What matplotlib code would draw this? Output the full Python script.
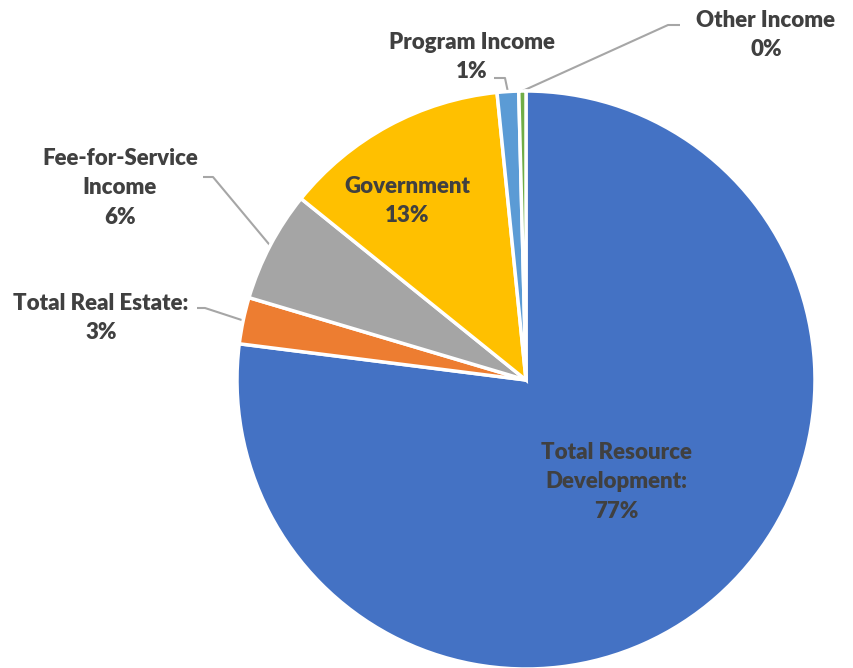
import matplotlib
matplotlib.use("Agg")
import matplotlib.pyplot as plt
import numpy as np

categories = ["Total Resource\nDevelopment:", "Total Real Estate:", "Fee-for-Service\nIncome",
              "Government", "Program Income", "Other Income"]
values = [77.0, 2.6, 6.2, 12.6, 1.2, 0.4]
colors = ["#4472C4", "#ED7D31", "#A5A5A5", "#FFC000", "#5B9BD5", "#70AD47"]

# label layout (pixel coords, y from top)
label_pos = [(616, 482), (101, 318), (120, 188), (407, 201), (472, 57), (766, 35)]
# leader: (start x of horizontal, elbow x, y) or None
leaders = [None, (197, 205, 308), (203, 213, 177), None, (494, 505, 78), (680, 668, 25)]

W, H = 854, 668
fig = plt.figure(figsize=(W / 100, H / 100), dpi=100)
ax = fig.add_axes([0, 0, 1, 1])
cx, cy, r = 526, 380, 289

wedges, _ = ax.pie(values, colors=colors, startangle=90, counterclock=False,
                   center=(cx, H - cy), radius=r,
                   wedgeprops=dict(edgecolor="white", linewidth=2.5))
ax.set_xlim(0, W)
ax.set_ylim(0, H)
ax.set_aspect("equal")
ax.axis("off")

txtc = "#404040"
for i, (w, cat, v) in enumerate(zip(wedges, categories, values)):
    lx, ly = label_pos[i]
    ax.text(lx, H - ly, f"{cat}\n{round(v):.0f}%", ha="center", va="center",
            fontsize=16, fontweight="heavy", color=txtc, family="Lato",
            linespacing=1.48)
    if leaders[i] is not None:
        x0, x1, y = leaders[i]
        mid = np.deg2rad((w.theta1 + w.theta2) / 2)
        px = cx + r * np.cos(mid)
        py = (H - cy) + r * np.sin(mid)
        ax.plot([x0, x1, px], [H - y, H - y, py], color="#A6A6A6", lw=1.5,
                solid_capstyle="butt", zorder=0)

fig.savefig("out.png", dpi=100)
